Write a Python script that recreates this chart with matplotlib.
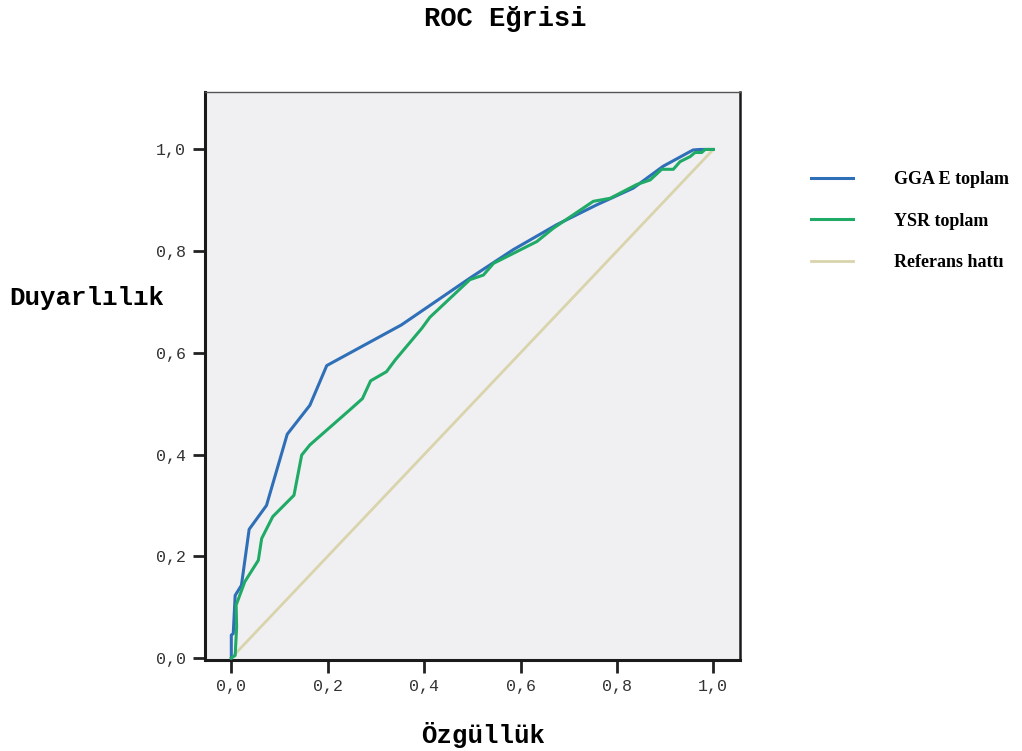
import matplotlib
matplotlib.use("Agg")
import matplotlib.pyplot as plt

# ---- data ----
tick_vals = [0.0, 0.2, 0.4, 0.6, 0.8, 1.0]
tick_labels = ["0,0", "0,2", "0,4", "0,6", "0,8", "1,0"]

gga_x = [0, 0, 0.004, 0.008, 0.021, 0.037, 0.073, 0.116, 0.163, 0.198, 0.353,
         0.495, 0.585, 0.675, 0.758, 0.834, 0.896, 0.958, 0.972, 1.0]
gga_y = [0, 0.045, 0.048, 0.123, 0.143, 0.253, 0.30, 0.44, 0.497, 0.575, 0.655,
         0.747, 0.803, 0.852, 0.891, 0.924, 0.967, 0.999, 1.0, 1.0]

ysr_x = [0, 0.008, 0.011, 0.010, 0.028, 0.056, 0.063, 0.086, 0.13, 0.146, 0.163,
         0.246, 0.272, 0.289, 0.322, 0.340, 0.395, 0.412, 0.495, 0.523, 0.544, 0.634,
         0.668, 0.751, 0.786, 0.841, 0.869, 0.893, 0.917, 0.931, 0.952, 0.962,
         0.976, 0.983, 1.0]
ysr_y = [0, 0.005, 0.061, 0.104, 0.15, 0.192, 0.235, 0.278, 0.32, 0.399, 0.419,
         0.488, 0.51, 0.545, 0.563, 0.586, 0.648, 0.670, 0.744, 0.753, 0.776, 0.819,
         0.845, 0.898, 0.904, 0.931, 0.940, 0.961, 0.961, 0.976, 0.986, 0.994,
         0.994, 1.0, 1.0]

ref_x = [0, 1]
ref_y = [0, 1]

series_names = ["GGA E toplam", "YSR toplam", "Referans hattı"]

# ---- figure ----
fig = plt.figure(figsize=(10.22, 7.51), dpi=100)
ax = fig.add_axes([205/1022, 1-660/751, 535/1022, 568/751])
ax.set_facecolor("#f0f0f2")

l1, = ax.plot(gga_x, gga_y, color="#2f6fb7", lw=2.2, zorder=3)
l2, = ax.plot(ysr_x, ysr_y, color="#1faa66", lw=2.2, zorder=3)
l3, = ax.plot(ref_x, ref_y, color="#d9d4ac", lw=2.0, zorder=2)

ax.set_xlim(-0.0546, 1.0554)
ax.set_ylim(-0.004, 1.113)

mono = "Liberation Mono"
ax.set_xticks(tick_vals)
ax.set_xticklabels(tick_labels, family=mono, fontsize=12, color="#333333")
ax.set_yticks(tick_vals)
ax.set_yticklabels(tick_labels, family=mono, fontsize=12, color="#333333")
ax.tick_params(axis="both", direction="out", length=9, width=2.0, color="#222222", pad=5)

for s in ["left", "bottom"]:
    ax.spines[s].set_linewidth(2.2)
    ax.spines[s].set_color("#1a1a1a")
ax.spines["right"].set_linewidth(1.8)
ax.spines["right"].set_color("#1a1a1a")
ax.spines["top"].set_linewidth(1.0)
ax.spines["top"].set_color("#555555")

ax.set_ylabel("Duyarlılık", family=mono, fontsize=18.5, fontweight="bold",
              rotation=0, ha="center", va="center")
ax.yaxis.set_label_coords(-0.2206, 0.637)
ax.set_xlabel("Özgüllük", family=mono, fontsize=18.5, fontweight="bold",
              ha="center", va="center")
ax.xaxis.set_label_coords(0.52, -0.132)

fig.text(505/1022, 1-19/751, "ROC Eğrisi", family=mono, fontsize=19.5,
         fontweight="bold", ha="center", va="center")

leg = fig.legend([l1, l2, l3], series_names, loc="upper left",
                 bbox_to_anchor=(795/1022, 1-155/751), frameon=False,
                 prop={"family": "Liberation Serif", "weight": "bold", "size": 13},
                 handlelength=2.3, handletextpad=2.3, labelspacing=1.35)

fig.savefig("out.png", dpi=100)
